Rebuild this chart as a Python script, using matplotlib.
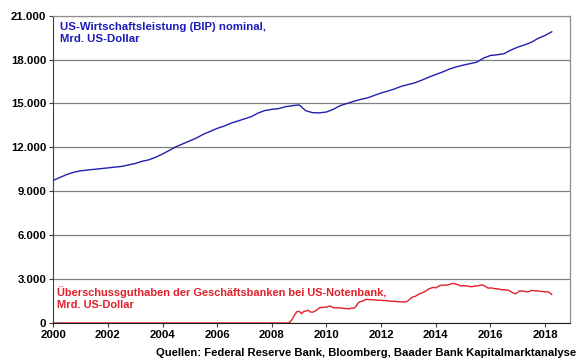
import matplotlib
matplotlib.use('Agg')
import matplotlib.pyplot as plt
import numpy as np
import pandas as pd

plt.rcParams['font.family'] = ['Liberation Sans', 'DejaVu Sans']
plt.rcParams['font.weight'] = 'bold'

# US-BIP nominal, Mrd. US-Dollar, quarterly from 2000-Q1 (as plotted)
gdp_start = '2000-01-01'
gdp = [9750, 9950, 10150, 10300, 10400, 10450, 10500, 10550,
       10600, 10650, 10700, 10800, 10900, 11050, 11150, 11330,
       11550, 11800, 12050, 12250, 12450, 12650, 12900, 13100,
       13300, 13450, 13650, 13800, 13950, 14100, 14350, 14520,
       14600, 14650, 14780, 14850, 14900, 14500, 14370, 14360,
       14420, 14600, 14850, 15000, 15150, 15280, 15380, 15550,
       15720, 15850, 16000, 16180, 16300, 16420, 16600, 16800,
       16980, 17150, 17350, 17500, 17620, 17720, 17820, 18100,
       18280, 18330, 18400, 18650, 18850, 19000, 19180, 19450,
       19650, 19900]

# Ueberschussguthaben, Mrd. US-Dollar, flat at zero from 2000, monthly from 2008-08
res_flat_from = '2000-01-01'
res_start = '2008-08-01'
reserves = [2, 60, 270, 560, 770,
            800, 640, 780, 820, 870, 750, 740, 810, 910, 1050, 1060, 1080,
            1080, 1150, 1140, 1050, 1030, 1040, 1030, 1020, 985, 985, 960, 1020,
            1010, 1150, 1380, 1470, 1500, 1600, 1610, 1600, 1580, 1580, 1560, 1550,
            1560, 1530, 1540, 1510, 1495, 1470, 1490, 1460, 1450, 1440, 1440, 1440,
            1540, 1690, 1780, 1820, 1910, 2000, 2060, 2130, 2230, 2330, 2390, 2430,
            2400, 2490, 2570, 2580, 2590, 2590, 2630, 2680, 2700, 2650, 2600, 2530,
            2560, 2540, 2520, 2490, 2480, 2520, 2530, 2560, 2590, 2580, 2480, 2380,
            2400, 2380, 2340, 2340, 2310, 2270, 2280, 2250, 2240, 2140, 2060, 1990,
            2090, 2200, 2180, 2170, 2130, 2140, 2230, 2210, 2200, 2190, 2160, 2150,
            2130, 2140, 2080, 1950]

years = list(range(2000, 2019, 2))
yticks = list(range(0, 21001, 3000))


def dec_year(d):
    return d.year + (d.dayofyear - 1) / (366 if d.is_leap_year else 365)


gdp_dates = pd.date_range(gdp_start, periods=len(gdp), freq='QS')
gdp_x = [dec_year(d) for d in gdp_dates]
res_dates = [pd.Timestamp(res_flat_from)] + list(pd.date_range(res_start, periods=len(reserves), freq='MS'))
res_x = [dec_year(d) for d in res_dates]
res_y = [0] + reserves

fig = plt.figure(figsize=(5.8, 3.59), dpi=100)
ax = fig.add_axes([0.092, 0.1003, 0.891, 0.856])

ax.plot(gdp_x, gdp, color='#2020b0', lw=1.0)
ax.plot(res_x, res_y, color='#e0202a', lw=1.0)

ax.set_xlim(2000, 2018.92)
ax.set_ylim(0, 21000)
ax.set_xticks(years)
ax.set_xticklabels([str(y) for y in years], fontsize=8.2, fontweight='bold')
ax.set_yticks(yticks)
ax.set_yticklabels([f'{v:,.0f}'.replace(',', '.') for v in yticks], fontsize=8.2, fontweight='bold')
ax.tick_params(axis='both', direction='out', length=3, width=0.8, color='#404040', pad=2)
ax.yaxis.grid(True, color='#808080', lw=0.9)
ax.set_axisbelow(True)

for s in ['top', 'right']:
    ax.spines[s].set_color('#909090')
    ax.spines[s].set_linewidth(0.9)
ax.spines['left'].set_color('#404040')
ax.spines['bottom'].set_color('#202020')

ax.text(0.012, 0.978, 'US-Wirtschaftsleistung (BIP) nominal,\nMrd. US-Dollar',
        transform=ax.transAxes, ha='left', va='top', color='#1c1cb8',
        fontsize=8.2, fontweight='bold', linespacing=1.2)
ax.text(0.007, 0.12, 'Überschussguthaben der Geschäftsbanken bei US-Notenbank,\nMrd. US-Dollar',
        transform=ax.transAxes, ha='left', va='top', color='#e0202a',
        fontsize=7.9, fontweight='bold', linespacing=1.25)

fig.text(0.993, 0.004, 'Quellen: Federal Reserve Bank, Bloomberg, Baader Bank Kapitalmarktanalyse',
         ha='right', va='bottom', fontsize=8.1, fontweight='bold', color='black')

fig.savefig('out.png', dpi=100)
